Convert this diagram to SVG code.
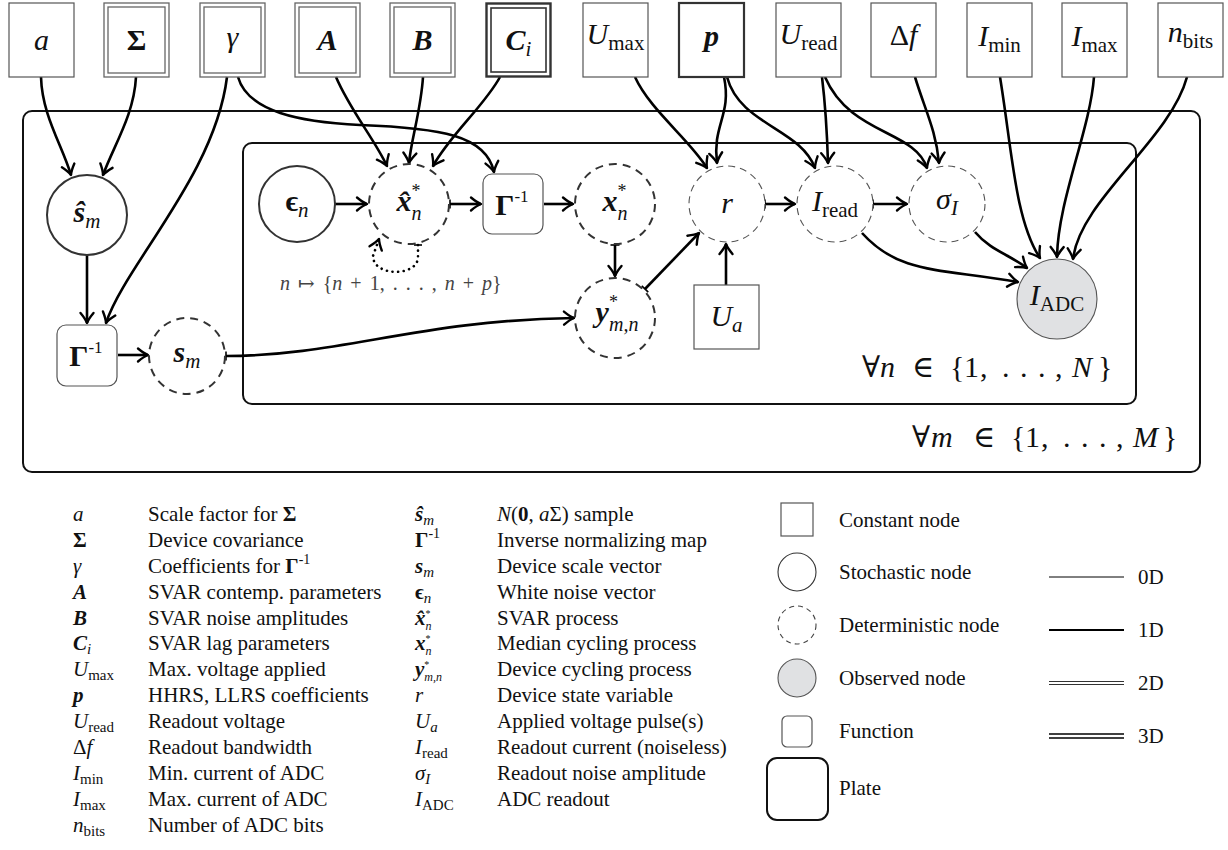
<svg xmlns="http://www.w3.org/2000/svg" width="1228" height="850" viewBox="0 0 1228 850">
<style>
text{font-family:"Liberation Serif","DejaVu Serif",serif;fill:#111}
.i{font-style:italic}
.b{font-weight:bold}
.bi{font-weight:bold;font-style:italic}
.lbl{font-size:30px}
.lg{font-size:21px}
.const{fill:#fff;stroke:#555;stroke-width:1.2}
.dbl{fill:none;stroke:#666;stroke-width:1.3}
.tri{fill:none;stroke:#333;stroke-width:2.4}
.c1d{fill:#fff;stroke:#333;stroke-width:2.2}
.stoch{fill:#fff;stroke:#333;stroke-width:2}
.det1{fill:#fff;stroke:#333;stroke-width:2;stroke-dasharray:8 6}
.det0{fill:#fff;stroke:#555;stroke-width:1.1;stroke-dasharray:7 5}
.obs{fill:#e0e1e3;stroke:#555;stroke-width:1.1}
.fn{fill:#fff;stroke:#555;stroke-width:1.2}
.plate{fill:none;stroke:#111;stroke-width:2}
.edge{fill:none;stroke:#000;stroke-width:2.6;marker-end:url(#arr)}
.tk{marker-start:url(#tick)}
.loop{fill:none;stroke:#000;stroke-width:2.6;stroke-dasharray:0.1 5.5;stroke-linecap:round;marker-end:url(#arr)}
</style>
<defs>
<marker id="arr" markerUnits="userSpaceOnUse" viewBox="-13 -8 15 16" refX="0" refY="0" markerWidth="15" markerHeight="16" orient="auto" overflow="visible">
<path d="M-10,-6.5 Q-4,-1.5 0,0 Q-4,1.5 -10,6.5" fill="none" stroke="#000" stroke-width="2.4" stroke-linecap="round" stroke-linejoin="round"/>
</marker>
<marker id="tick" markerUnits="userSpaceOnUse" viewBox="-2 -6 4 12" refX="0" refY="0" markerWidth="4" markerHeight="12" orient="auto" overflow="visible">
<path d="M0,-4.5 L0,4.5" stroke="#000" stroke-width="1.6"/>
</marker>
</defs>

<!-- plates -->
<g id="plate-m"><rect class="plate" x="23" y="111" width="1177" height="361" rx="9"/>
<text class="lbl" y="447"><tspan x="912">∀</tspan><tspan x="931" class="i">m</tspan><tspan x="973">∈</tspan><tspan x="1011">{</tspan><tspan x="1025">1</tspan><tspan x="1041">,</tspan><tspan x="1063">.</tspan><tspan x="1081">.</tspan><tspan x="1099">.</tspan><tspan x="1116">,</tspan><tspan x="1133" class="i">M</tspan><tspan x="1163">}</tspan></text></g>
<g id="plate-n"><rect class="plate" x="243" y="143" width="893" height="261" rx="9"/>
<text class="lbl" y="377"><tspan x="862">∀</tspan><tspan x="880" class="i">n</tspan><tspan x="912">∈</tspan><tspan x="950">{</tspan><tspan x="964">1</tspan><tspan x="980">,</tspan><tspan x="1002">.</tspan><tspan x="1020">.</tspan><tspan x="1038">.</tspan><tspan x="1055">,</tspan><tspan x="1072" class="i">N</tspan><tspan x="1098">}</tspan></text></g>

<!-- connectors -->
<g id="connectors">
<path id="e-a-sh" class="edge" d="M41,77 C42,115 62,145 71,175"/>
<path id="e-S-sh" class="edge" d="M136,77 C134,115 114,145 103,175"/>
<path id="e-g-G1" class="edge" d="M227,77 C215,175 125,265 106,323"/>
<path id="e-g-G2" class="edge" d="M238,77 C248,112 300,122 360,125 C440,128 486,135 494,172"/>
<path id="e-A-xh" class="edge" d="M336,77 C350,110 375,140 387,166"/>
<path id="e-B-xh" class="edge" d="M423,77 C421,110 411,140 409,163"/>
<path id="e-C-xh" class="edge" d="M500,77 C485,105 450,135 433,166"/>
<path id="e-eps-xh" class="edge" d="M335,204 L367,204"/>
<path id="e-xh-G2" class="edge tk" d="M450,204 L481,204"/>
<path id="e-G2-xs" class="edge" d="M544,204 L573,204"/>
<path id="e-xs-ys" class="edge tk" d="M615,245 L615,276"/>
<path id="e-ys-r" class="edge tk" d="M645,289 L699,233"/>
<path id="e-Ua-r" class="edge" d="M726,285 L726,244"/>
<path id="e-r-Ir" class="edge tk" d="M765,204 L795,204"/>
<path id="e-Ir-sI" class="edge tk" d="M873,204 L907,204"/>
<path id="e-Um-r" class="edge" d="M635,77 C650,110 690,140 707,168"/>
<path id="e-p-r" class="edge" d="M724,77 C732,115 712,125 717,163"/>
<path id="e-p-Ir" class="edge" d="M727,77 C740,125 800,128 815,168"/>
<path id="e-Ur-Ir" class="edge" d="M822,77 C826,110 827,130 828,163"/>
<path id="e-Ur-sI" class="edge" d="M825,77 C850,135 915,130 927,168"/>
<path id="e-df-sI" class="edge" d="M915,77 C925,110 936,130 939,163"/>
<path id="e-sI-IA" class="edge" d="M975,232 C990,250 1010,255 1027,268"/>
<path id="e-Ir-IA" class="edge" d="M862,233 C900,275 940,268 1018,282"/>
<path id="e-Imin-IA" class="edge" d="M1000,77 C1012,150 1015,220 1040,258"/>
<path id="e-Imax-IA" class="edge" d="M1094,77 C1090,130 1058,200 1057,257"/>
<path id="e-nb-IA" class="edge" d="M1187,77 C1170,140 1080,200 1073,259"/>
<path id="e-sh-G1" class="edge" d="M87,255 L87,323"/>
<path id="e-G1-sm" class="edge" d="M118,355 L148,355"/>
<path id="e-sm-ys" class="edge tk" d="M226,356 C340,356 420,320 574,318"/>
<path id="e-loop" class="loop" d="M418,245 L418,257 C418,277 373,277 373,256 L379,239"/>
<path d="M414,245 L422,245" stroke="#000" stroke-width="1.6"/>
<text x="280" y="290" font-size="20" word-spacing="3" style="fill:#444"><tspan class="i">n</tspan> ↦ {<tspan class="i">n</tspan> + 1, . . . , <tspan class="i">n</tspan> + <tspan class="i">p</tspan>}</text>
</g>

<!-- constant nodes -->
<g id="n-a"><rect class="const" x="9" y="3" width="65" height="74"/><text class="lbl i" x="41.5" y="50" text-anchor="middle">a</text></g>
<g id="n-Sigma"><rect class="dbl" x="104" y="3" width="65" height="74"/><rect class="dbl" x="108" y="7" width="57" height="66"/><text class="lbl b" x="136.5" y="50" text-anchor="middle">Σ</text></g>
<g id="n-gamma"><rect class="dbl" x="200" y="3" width="65" height="74"/><rect class="dbl" x="204" y="7" width="57" height="66"/><text class="lbl i" x="232.5" y="47" text-anchor="middle">γ</text></g>
<g id="n-A"><rect class="dbl" x="295" y="3" width="65" height="74"/><rect class="dbl" x="299" y="7" width="57" height="66"/><text class="lbl bi" x="327.5" y="50" text-anchor="middle">A</text></g>
<g id="n-B"><rect class="dbl" x="390" y="3" width="65" height="74"/><rect class="dbl" x="394" y="7" width="57" height="66"/><text class="lbl bi" x="422.5" y="50" text-anchor="middle">B</text></g>
<g id="n-C"><rect class="tri" x="486.5" y="3.5" width="64" height="73"/><rect class="tri" x="491" y="8" width="55" height="64" style="stroke-width:1.6"/><text class="lbl" x="518.5" y="50" text-anchor="middle"><tspan class="bi">C</tspan><tspan class="i" font-size="21" dy="6">i</tspan></text></g>
<g id="n-Umax"><rect class="const" x="583" y="3" width="65" height="74"/><text class="lbl" x="615.5" y="44" text-anchor="middle"><tspan class="i">U</tspan><tspan font-size="21" dy="6">max</tspan></text></g>
<g id="n-p"><rect class="c1d" x="679" y="3" width="65" height="74"/><text class="lbl bi" x="711.5" y="46" text-anchor="middle">p</text></g>
<g id="n-Uread"><rect class="const" x="776" y="3" width="65" height="74"/><text class="lbl" x="808.5" y="44" text-anchor="middle"><tspan class="i">U</tspan><tspan font-size="21" dy="6">read</tspan></text></g>
<g id="n-df"><rect class="const" x="871" y="3" width="65" height="74"/><text class="lbl" x="903.5" y="45" text-anchor="middle">Δ<tspan class="i">f</tspan></text></g>
<g id="n-Imin"><rect class="const" x="967" y="3" width="65" height="74"/><text class="lbl" x="999.5" y="46" text-anchor="middle"><tspan class="i">I</tspan><tspan font-size="21" dy="6">min</tspan></text></g>
<g id="n-Imax"><rect class="const" x="1062" y="3" width="65" height="74"/><text class="lbl" x="1094.5" y="46" text-anchor="middle"><tspan class="i">I</tspan><tspan font-size="21" dy="6">max</tspan></text></g>
<g id="n-nbits"><rect class="const" x="1158" y="3" width="65" height="74"/><text class="lbl" x="1190.5" y="42" text-anchor="middle"><tspan class="i">n</tspan><tspan font-size="21" dy="6">bits</tspan></text></g>

<!-- inner nodes -->
<g id="n-shat"><circle class="stoch" cx="87" cy="215" r="40"/><text class="lbl" x="87" y="222" text-anchor="middle"><tspan class="bi">ŝ</tspan><tspan class="i" font-size="21" dy="6">m</tspan></text></g>
<g id="n-Ginv1"><rect class="fn" x="57" y="325" width="60" height="61" rx="9"/><text class="lbl" x="86" y="366" text-anchor="middle"><tspan class="b">Γ</tspan><tspan font-size="17" dy="-13">-1</tspan></text></g>
<g id="n-sm"><circle class="det1" cx="187" cy="356" r="38"/><text class="lbl" x="187" y="362" text-anchor="middle"><tspan class="bi">s</tspan><tspan class="i" font-size="21" dy="6">m</tspan></text></g>
<g id="n-eps"><circle class="stoch" cx="297" cy="204" r="38"/><text class="lbl" x="297" y="211" text-anchor="middle"><tspan class="b">ϵ</tspan><tspan class="i" font-size="21" dy="6">n</tspan></text></g>
<g id="n-xhat"><circle class="det1" cx="409" cy="204" r="40"/><text class="lbl" x="409" y="211" text-anchor="middle"><tspan class="bi">x̂</tspan><tspan font-size="18" dy="-14">*</tspan><tspan class="i" font-size="20" dx="-9" dy="23">n</tspan></text></g>
<g id="n-Ginv2"><rect class="fn" x="483" y="174" width="60" height="60" rx="9"/><text class="lbl" x="512" y="215" text-anchor="middle"><tspan class="b">Γ</tspan><tspan font-size="17" dy="-13">-1</tspan></text></g>
<g id="n-xs"><circle class="det1" cx="615" cy="204" r="40"/><text class="lbl" x="615" y="211" text-anchor="middle"><tspan class="bi">x</tspan><tspan font-size="18" dy="-14">*</tspan><tspan class="i" font-size="20" dx="-9" dy="23">n</tspan></text></g>
<g id="n-ys"><circle class="det1" cx="615" cy="318" r="40"/><text class="lbl" x="617" y="322" text-anchor="middle"><tspan class="bi">y</tspan><tspan font-size="18" dy="-14">*</tspan><tspan class="i" font-size="20" dx="-9" dy="23">m,n</tspan></text></g>
<g id="n-r"><circle class="det0" cx="727" cy="204" r="38"/><text class="lbl i" x="727" y="213" text-anchor="middle">r</text></g>
<g id="n-Ua"><rect class="const" x="694" y="285" width="65" height="64"/><text class="lbl" x="726.5" y="326" text-anchor="middle"><tspan class="i">U</tspan><tspan class="i" font-size="21" dy="6">a</tspan></text></g>
<g id="n-Iread"><circle class="det0" cx="835" cy="204" r="38"/><text class="lbl" x="835" y="211" text-anchor="middle"><tspan class="i">I</tspan><tspan font-size="21" dy="6">read</tspan></text></g>
<g id="n-sigI"><circle class="det0" cx="947" cy="204" r="38"/><text class="lbl" x="947" y="209" text-anchor="middle"><tspan class="i">σ</tspan><tspan class="i" font-size="21" dy="6">I</tspan></text></g>
<g id="n-IADC"><circle class="obs" cx="1057" cy="299" r="40"/><text class="lbl" x="1057" y="305" text-anchor="middle"><tspan class="i">I</tspan><tspan font-size="21" dy="6">ADC</tspan></text></g>

<!-- legend column 1 -->
<g id="legend-1" class="lg" font-size="21">
<text x="73" y="521" class="i">a</text><text x="148" y="521">Scale factor for <tspan class="b">Σ</tspan></text>
<text x="73" y="547" class="b">Σ</text><text x="148" y="547">Device covariance</text>
<text x="73" y="573" class="i">γ</text><text x="148" y="573">Coefficients for <tspan class="b">Γ</tspan><tspan font-size="14" dy="-9">-1</tspan></text>
<text x="73" y="599" class="bi">A</text><text x="148" y="599">SVAR contemp. parameters</text>
<text x="73" y="625" class="bi">B</text><text x="148" y="625">SVAR noise amplitudes</text>
<text x="73" y="650"><tspan class="bi">C</tspan><tspan class="i" font-size="15" dy="4">i</tspan></text><text x="148" y="650">SVAR lag parameters</text>
<text x="73" y="676"><tspan class="i">U</tspan><tspan font-size="15" dy="4">max</tspan></text><text x="148" y="676">Max. voltage applied</text>
<text x="73" y="702" class="bi">p</text><text x="148" y="702">HHRS, LLRS coefficients</text>
<text x="73" y="728"><tspan class="i">U</tspan><tspan font-size="15" dy="4">read</tspan></text><text x="148" y="728">Readout voltage</text>
<text x="73" y="754">Δ<tspan class="i">f</tspan></text><text x="148" y="754">Readout bandwidth</text>
<text x="73" y="780"><tspan class="i">I</tspan><tspan font-size="15" dy="4">min</tspan></text><text x="148" y="780">Min. current of ADC</text>
<text x="73" y="806"><tspan class="i">I</tspan><tspan font-size="15" dy="4">max</tspan></text><text x="148" y="806">Max. current of ADC</text>
<text x="73" y="832"><tspan class="i">n</tspan><tspan font-size="15" dy="4">bits</tspan></text><text x="148" y="832">Number of ADC bits</text>
</g>

<!-- legend column 2 -->
<g id="legend-2" class="lg" font-size="21">
<text x="415" y="521"><tspan class="bi">ŝ</tspan><tspan class="i" font-size="15" dy="4">m</tspan></text><text x="497" y="521"><tspan class="i">N</tspan>(<tspan class="b">0</tspan>, <tspan class="i">a</tspan>Σ) sample</text>
<text x="415" y="547"><tspan class="b">Γ</tspan><tspan font-size="14" dy="-9">-1</tspan></text><text x="497" y="547">Inverse normalizing map</text>
<text x="415" y="573"><tspan class="bi">s</tspan><tspan class="i" font-size="15" dy="4">m</tspan></text><text x="497" y="573">Device scale vector</text>
<text x="415" y="599"><tspan class="b">ϵ</tspan><tspan class="i" font-size="15" dy="4">n</tspan></text><text x="497" y="599">White noise vector</text>
<text x="415" y="625"><tspan class="bi">x̂</tspan><tspan font-size="10" dy="-8.5">*</tspan><tspan class="i" font-size="12" dx="-5" dy="13">n</tspan></text><text x="497" y="625">SVAR process</text>
<text x="415" y="650"><tspan class="bi">x</tspan><tspan font-size="10" dy="-8.5">*</tspan><tspan class="i" font-size="12" dx="-5" dy="13">n</tspan></text><text x="497" y="650">Median cycling process</text>
<text x="415" y="676"><tspan class="bi">y</tspan><tspan font-size="10" dy="-8.5">*</tspan><tspan class="i" font-size="12" dx="-5" dy="13">m,n</tspan></text><text x="497" y="676">Device cycling process</text>
<text x="415" y="702" class="i">r</text><text x="497" y="702">Device state variable</text>
<text x="415" y="728"><tspan class="i">U</tspan><tspan class="i" font-size="15" dy="4">a</tspan></text><text x="497" y="728">Applied voltage pulse(s)</text>
<text x="415" y="754"><tspan class="i">I</tspan><tspan font-size="15" dy="4">read</tspan></text><text x="497" y="754">Readout current (noiseless)</text>
<text x="415" y="780"><tspan class="i">σ</tspan><tspan class="i" font-size="15" dy="4">I</tspan></text><text x="497" y="780">Readout noise amplitude</text>
<text x="415" y="806"><tspan class="i">I</tspan><tspan font-size="15" dy="4">ADC</tspan></text><text x="497" y="806">ADC readout</text>
</g>

<!-- legend column 3 -->
<g id="legend-3" font-size="21">
<rect class="const" x="781" y="503" width="32" height="33"/><text class="lg" x="839" y="527">Constant node</text>
<circle cx="797" cy="572" r="19" fill="#fff" stroke="#333" stroke-width="1.1"/><text class="lg" x="839" y="579">Stochastic node</text>
<circle cx="797" cy="625" r="19" fill="#fff" stroke="#444" stroke-width="1.1" stroke-dasharray="5 4"/><text class="lg" x="839" y="632">Deterministic node</text>
<circle class="obs" cx="797" cy="678" r="19"/><text class="lg" x="839" y="685">Observed node</text>
<rect class="fn" x="782" y="716" width="30" height="31" rx="5"/><text class="lg" x="839" y="738">Function</text>
<rect x="767" y="758" width="61" height="62" rx="10" fill="none" stroke="#111" stroke-width="2"/><text class="lg" x="839" y="795">Plate</text>
<line x1="1049" y1="577" x2="1124" y2="577" stroke="#000" stroke-width="1"/><text class="lg" x="1138" y="584">0D</text>
<line x1="1049" y1="630" x2="1124" y2="630" stroke="#000" stroke-width="2"/><text class="lg" x="1138" y="637">1D</text>
<line x1="1049" y1="681.5" x2="1124" y2="681.5" stroke="#333" stroke-width="1"/><line x1="1049" y1="684.5" x2="1124" y2="684.5" stroke="#333" stroke-width="1"/><text class="lg" x="1138" y="690">2D</text>
<line x1="1049" y1="734" x2="1124" y2="734" stroke="#000" stroke-width="1.7"/><line x1="1049" y1="738" x2="1124" y2="738" stroke="#000" stroke-width="1.7"/><text class="lg" x="1138" y="743">3D</text>
</g>
</svg>
